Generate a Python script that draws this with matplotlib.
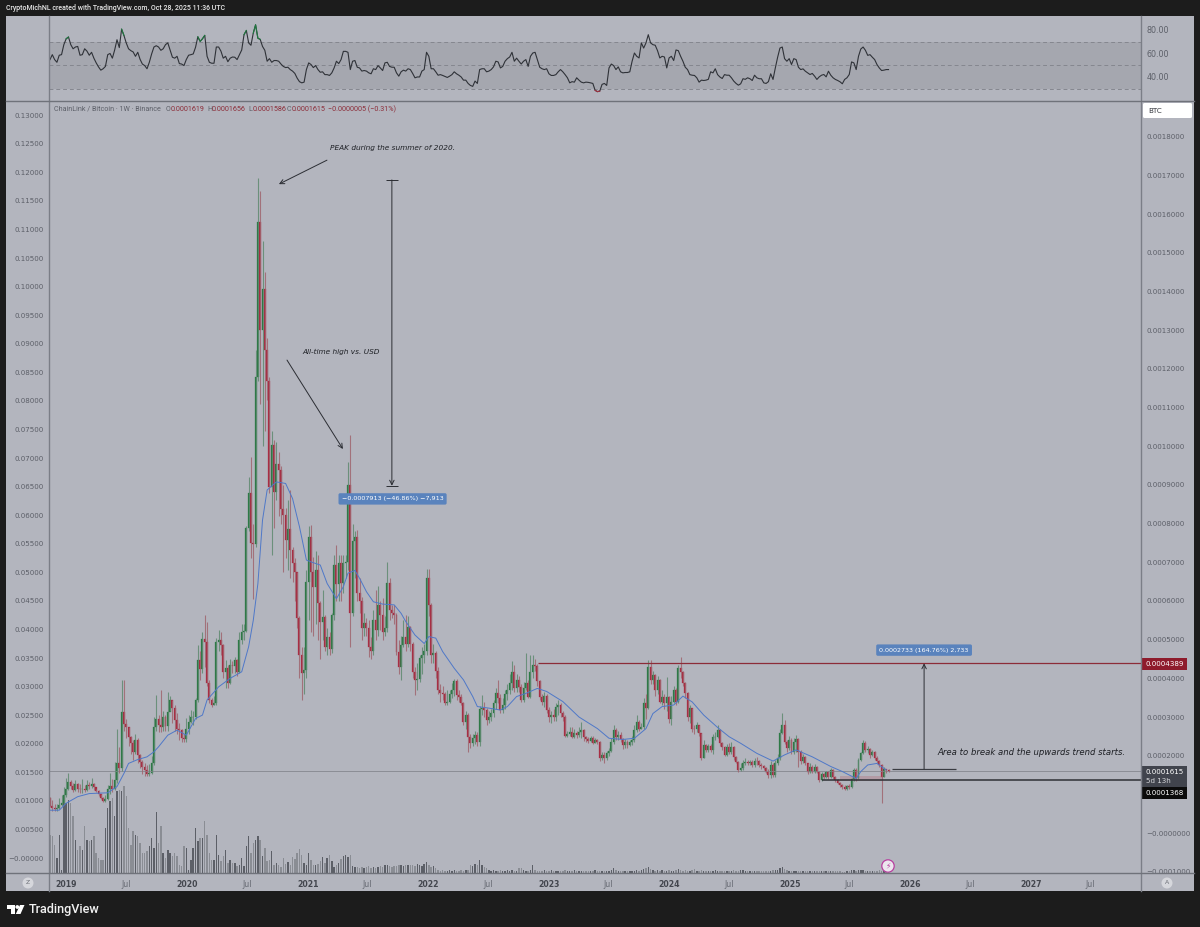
import numpy as np
import pandas as pd
import matplotlib
matplotlib.use("Agg")
import matplotlib.pyplot as plt
from matplotlib.patches import Rectangle, Circle, Polygon, FancyBboxPatch
from matplotlib.ticker import FuncFormatter

W, H = 1200, 927
DARK = "#1c1c1c"
PANEL = "#b3b5be"
BAND = "#a5a7af"
AXIS_LINE = "#7b7e87"
TEXT = "#5c5f68"
UP = "#1d7338"
DOWN = "#a81c34"
BLUE_BOX = "#5a83bd"

START = pd.Timestamp("2018-11-12")
UNIT = 1e-5  # prices below are in 1e-5 BTC

first_open = 9.0
close = [
    7.0,6.5,6.2,6.4,7.2,7.7,9.8,11.5,13.2,12.2,
    11.1,12.7,11.5,11.4,11.5,11.1,12.4,12.2,12.8,12.0,
    10.9,10.1,9.0,8.3,8.7,11.5,12.2,11.5,13.7,18.2,
    16.7,31.4,28.3,27.3,24.9,23.2,21.0,24.0,20.2,18.4,
    17.1,16.3,15.2,15.6,18.0,27.5,29.6,27.9,27.5,29.9,
    27.7,31.4,34.4,32.2,29.2,27.0,26.6,24.5,24.2,27.0,
    28.8,30.0,30.0,34.4,44.7,42.5,50.3,49.5,38.7,34.4,
    33.1,33.5,49.4,50.0,48.6,41.7,42.8,38.8,43.4,43.2,
    44.7,41.7,49.9,52.0,52.3,79.0,87.8,74.9,74.7,118.0,
    158.0,130.0,140.8,124.9,117.0,89.5,100.3,88.2,95.5,94.0,
    83.9,82.2,75.7,78.7,73.2,69.7,67.5,55.5,46.0,41.3,
    42.2,65.0,76.6,67.5,63.7,68.0,59.4,54.6,55.9,48.2,
    50.7,47.5,56.3,69.3,64.5,69.7,64.6,69.7,70.0,90.0,
    56.8,75.4,76.6,62.0,60.0,53.0,54.3,53.0,48.2,47.0,
    55,52.5,59,56.4,52,53,64.6,57.7,57,56.5,
    46.9,43,48.6,50.8,49,53.4,49,41.7,39.6,39.8,
    45.2,46,47,65.9,59,46,46.5,42,37,36.2,
    36,33.5,34,36,37,39.2,35.7,35.3,33.5,28.8,
    30.5,24.9,23.2,24.5,25.3,23.5,32,32.2,31.9,29.2,
    30,31,33.5,36.1,35,31.8,33,36,37,38.7,
    41.7,37.5,39.5,37.8,34.5,37.6,38.7,35.3,41.7,43.4,
    43.2,39.2,35.3,34,35.5,31.8,30,30.5,30,32.5,
    33,31,30,25,25.5,26,24.9,25.8,25.3,26.2,
    26.6,24.9,24.2,23.8,24.5,23.3,24,23.6,19.3,20.2,
    19.3,20.6,21.3,23.6,26.6,24.9,25.3,24.2,22.7,23.6,
    22.7,23.6,24,26.6,28.8,27,27.5,33.5,32.2,43,
    39.6,40.8,37,39.6,33.9,35.2,33.5,35.2,29.6,33.9,
    37,33.9,42.6,41.7,38.7,36.1,30,32.2,27,26.8,
    27.9,25.8,19.3,22.7,21.5,22.5,21.5,24.9,24.9,26.6,
    23.2,22.3,20.2,22.3,21,22.3,19.7,18.4,16.3,16.7,
    18,18.4,18,18.4,17.6,18.7,18.5,17.6,17.3,16.7,
    15.9,15,17.6,15,18,19.3,25.8,27.9,23.6,21.9,
    24,21,23.6,24.2,21,18.5,19.6,18,15.9,17.2,
    15.9,17,15.9,13.7,15.3,14.4,15.7,14.6,16.3,14.4,
    13.7,13,12.4,12,11.3,12.2,11.8,13.9,16.3,14.1,
    18.9,20.8,23.2,21.5,21.6,20.2,21,19.3,18.5,17.6,
    14.6,16.5,16.19,16.15,
]
high = [
    9.4,8.5,7.4,7.6,9,9.8,12,14.1,15.4,13.8,
    13,13.7,13,12.8,14,12.5,13.6,13.3,14.1,13,
    11.5,11,10.1,9.4,9.8,12.5,15.4,14,18.4,26.8,
    22.3,39.6,39.6,29.5,27.5,25,24,25.5,24.5,20.5,
    19,18,17.5,17.8,20,30,35.8,30.5,36.9,31.5,
    30.5,36.4,35.5,34.5,33,31,28.5,27,25.5,29.8,
    30.5,31.8,31.5,35,48.6,47,52,56.3,54.6,39.5,
    35,35.5,50.5,52.5,52,49,44.8,43.5,45,44.5,
    45.5,45,52,54,54,79.5,92,97.3,80,125,
    169.5,166,153,145,128,118,104,101.6,101,98.5,
    95,90,84,86,88.6,74,71,67.5,56,48,
    48,68,79.4,79.6,71.4,73,72,60,62.8,56.4,
    53,52,57,72,74.5,72,72,72,72,96,
    102.9,80,78,78.4,66,61,57,55.5,55,50.8,
    57.7,62.8,64,60,60.7,56,70.2,66,59,59,
    57,50,51,55,56.4,56.2,53.6,49.5,43,44,
    46,48,49,68.2,68.2,59.5,49,47,43,38.5,
    38,36.5,37,37,38.8,39.8,39.8,37,36,33.8,
    31.5,31,25.5,25.5,26.5,26,32.8,35.7,34,32.3,
    31.5,32,34.5,37.5,39.6,36,35,37,38.5,41,
    44.5,43.5,41,40.5,38.5,39,46.6,39.5,46,46,
    45,43.8,39.5,36,36.5,36,32.5,31.5,32,33.5,
    34.5,33.5,31.5,30.5,26.5,27.5,27.5,27,26.5,27.5,
    28.8,27,25.2,24.8,25,25,24.6,24.2,23.8,21,
    21,21.2,22,24.5,27.9,27.2,26.5,26,24.5,24.4,
    24,24,25,28,30.5,29.2,28.5,35,36,44.7,
    44.7,42,41,40.5,39.8,37,36,40.4,35.5,35.5,
    38,37.5,43.5,45.6,42,39,36.5,33,32.4,28,
    28.8,28,25.9,24,23,23,23,25.5,26,28,
    26.8,23.6,22.5,23,23.2,23.5,22.4,20,18.5,18,
    19,19.5,19,19,18.8,19.5,19.7,18.8,18,17.6,
    17,16.5,18.5,18,19,20.5,27,31,29.2,24,
    25,24.5,24.5,25.3,24.5,21.5,20.5,20,18.2,18,
    17.5,17.8,17.4,16,15.7,15.5,16,16,16.8,16.5,
    14.8,14,13.2,12.8,12.3,12.5,12.6,14.2,16.8,16.8,
    19.3,21,24,23.8,22.5,22,21.5,21.2,19.8,18.8,
    17.8,17,16.6,16.56,
]
low = [
    6.6,5.8,5.7,5.8,6.2,6.9,7.5,9.2,11,11.5,
    10.5,10.8,10.6,10.3,10.4,10.7,10.8,11.4,11.6,11,
    10.5,9.6,8.7,8,7.9,8.6,10,10.5,11,13,
    15.5,16,26.5,24.5,22.5,20.5,19,20.5,18,16.8,
    15.2,14.8,14.7,14.8,15.2,17.5,26.5,26,26,26.5,
    26.3,26.5,31.5,28.5,26.5,25.5,24,23.5,23.5,23.5,
    25.5,28.5,28,29.5,34,39.5,41.5,43,38,33.5,
    32.5,33,33,47,46,40,37.5,37.5,38.5,41.5,
    41.5,40.5,41.5,49,50,52,78,71,60.6,74,
    117,111,100,104,112,88,72,79,86,82,
    80,67.5,71,68,66,65,60,53,40,34.4,
    36,40,55,52,51,54,50,45,50,47,
    46,46,46.5,55,60,60,60,62,66,68,
    48.2,56,66,60,56.8,50,51,51,45.6,45,
    46,50,51,52.5,50,51,52,55,55.5,54,
    46,41,39.6,48,47,48,47,40,35.7,37,
    39,41,44,46,56,44,44,40,36,34,
    34.5,33,33,33.5,35,35.5,34.5,34,33,28,
    27,21,22,22.5,23,22.5,22.5,30.5,30,28,
    28.5,29,30,32,33.5,31,31,32,34.5,36,
    37,36.5,36.5,36.5,34,34,37,35,35,40,
    42,38,34.5,33,32.5,31,28.8,28.5,29,29,
    30.5,30,29,24.8,24.8,25,24.5,24.5,24.6,24.8,
    24.5,23.9,23.6,23.2,23.5,23,23.2,23,18.6,19,
    18,19,20,21,23,24,24,23.6,21.6,22,
    22,22.4,22.8,23.5,26,26.4,26.8,27,29.5,32,
    38.5,38.5,35.5,36,33.5,33,32,31.5,28.5,28,
    33.5,33,33.5,40,38,35,29,28.5,26,25.5,
    26,25,19,19.5,21,21,21,20.5,24,24.5,
    22.5,21.5,20,20,20.5,20.5,19,18,15.9,16,
    16.2,17.5,17.5,17.5,17,17,17.5,17,16.5,16.2,
    15.5,14.2,14.2,14.5,14.4,17.5,19,25.5,23,21,
    21.5,20.5,20.5,21,17,17.8,18,17.6,15.2,15.5,
    15.5,15.6,15.5,13.2,13.5,14,14.2,14,14.2,14,
    13.3,12.6,12,11.5,11,11,11.4,11.6,13.5,13.5,
    13.9,18.5,20.5,21,20.7,19.5,19.8,18.8,18,17,
    7.7,14.4,15.6,15.86,
]
volume = [
    38,37,28,15,38,3,70,70,73,70,
    57,33,23,27,23,47,33,32,33,37,
    20,15,13,13,45,65,72,75,57,82,
    83,82,87,77,45,28,42,38,37,30,
    20,20,22,27,35,25,61,30,47,20,
    15,23,20,17,20,17,8,7,27,25,
    3,13,25,45,32,35,35,52,38,20,
    13,13,38,18,12,17,23,10,13,10,
    10,7,8,15,7,27,37,20,30,33,
    37,33,17,25,12,13,22,8,10,8,
    6,15,9,11,8,16,14,20,24,18,
    10,8,20,13,8,8,9,12,16,10,
    15,18,12,6,8,10,14,17,18,16,
    18,7,6,6,5,6,5,6,7,5,
    6,5,6,7,6,8,8,7,6,7,
    7,8,8,7,8,8,8,8,7,9,
    8,7,9,11,8,6,7,5,3,2,
    3,2,2,3,2,3,2,2,3,2,
    3,3,8,7,9,8,13,8,6,5,
    3,2,3,2,2,3,2,2,3,2,
    3,2,2,5,5,3,2,2,3,8,
    3,2,2,2,3,2,2,3,2,2,
    2,2,2,3,2,2,2,3,2,2,
    2,2,2,2,2,2,3,2,2,2,
    2,2,2,3,5,3,2,2,2,2,
    2,2,2,2,3,2,3,4,5,6,
    4,3,2,3,2,3,2,2,3,2,
    2,3,4,3,2,3,2,2,3,4,
    2,2,3,2,2,2,2,2,3,2,
    2,2,2,2,2,2,3,2,2,3,
    3,2,2,2,2,2,2,2,2,2,
    2,2,2,3,3,3,5,6,4,3,
    2,2,2,2,2,2,2,2,2,2,
    2,2,2,2,2,2,2,2,2,2,
    2,2,2,1,1,2,2,3,3,2,
    3,3,3,2,2,2,2,2,2,3,
    2,2,1,1,
]
rsi = [
    54.8,59,54.8,52.5,58.5,59,67.5,72.5,74,67.5,
    64,65.5,66,58.5,59,64,62,58.5,61,56,
    52,48.6,45.8,47,49,59,60,56,63,71.7,
    65,80.7,75.4,69,64,62.4,61.3,57.6,61,55,
    51,49.7,47,52.5,59.6,65.5,66.6,65.5,62.7,64,
    67.5,69,63,56.8,56,57.6,51.4,51,49.7,54.8,
    58.5,59,59.6,65.2,74.2,70.3,72.5,75.4,57.6,52.5,
    51.7,51.7,65.5,65.5,62,56,57.6,53,56,57,
    56.8,54.8,59,63,76,79.6,69,67,77.3,84.4,
    73,72,66,62.7,53.4,55.6,52.5,54,54,53.4,
    51,49,48,48.3,46.3,45,43,39,36,35,
    35.6,46.3,52,50.6,48,49.7,46.3,44,44.4,42,
    42,41.3,43.5,47.7,53.4,51.4,54.8,61.8,61.8,61,
    46.3,53.4,54,48.3,47.7,45,45.5,45,43.5,42.7,
    47,46.3,49.7,47.7,45.5,52,52.5,49,48.3,48.3,
    43.5,40.7,44.4,45.8,45,47,46.3,43,39.3,40,
    40,45,46.3,61,57.6,47,47,44.4,41.5,42,
    41.3,40.4,39.6,40.7,42,44.4,42.7,41.5,40,37.3,
    37.3,34.5,32.8,32,36.5,34.5,46.3,47,47,44.4,
    45,46.3,48.6,53.4,52.8,47.7,49,53.4,55.6,57,
    61,53.4,56,53.4,51,53.4,54.8,49,57.6,60.4,
    61,54.8,48.3,47,46.3,47,42.7,41.3,41.3,42,
    44.4,46.3,44.4,42,39.3,35,36,35.6,39.3,37.3,
    35.6,35,35.6,35.4,35,34.5,28.6,27.5,28,33.7,
    34.5,32.8,47.7,51,49.7,46.3,48.6,44.4,43.5,43.8,
    43.8,44.4,53.4,60.4,57.6,56.2,69,64.6,69,76,
    69,67.5,67,62.4,56.2,57.6,57,47.7,56.2,57.6,
    54,63,62.4,57.6,53.4,48.3,46.3,42,41.5,41.3,
    39.3,35.6,37.3,37,37.3,38,44.4,43.5,47,42,
    40,38.7,42,41.5,41.5,39.3,36.5,34.5,33,34.2,
    38.5,38,39.3,38.5,37,41.5,39.3,38.5,38.5,35,
    34.5,36,42.7,37.9,47.7,56.8,64.6,65.5,55.6,53.4,
    55.6,50.6,55.6,54.8,48.3,46.3,46.9,44.9,43.5,42.1,
    43,40.7,37.9,40.1,41.5,42.1,40.1,44.9,41.5,39.3,
    37.9,37,35.9,34.2,37.9,39.3,42.1,52.8,52,46.3,
    57.6,63.8,65.5,62.7,58.4,59,56.8,54.8,50.6,47.7,
    45.5,45.8,46.3,46.3,
]

# blue moving average, read at a sparser set of weeks
ma_week = [0,4,7,12,17,25,29,32,34,38,42,45,47,51,55,59,63,66,68,73,78,83,86,88,
           90,92,94,98,102,105,108,111,113,117,120,124,127,129,132,134,137,140,144,
           149,152,154,158,162,164,167,170,175,179,183,185,190,195,198,202,206,211,
           215,222,229,237,242,248,253,258,261,265,270,274,278,283,289,294,299,306,
           313,318,323,330,338,343,349,351,354,358,362]
ma_value = [5.9,5.9,7.7,9.4,10.2,10.4,12,15.4,18,19,19.7,21,22.3,25.3,26.6,25.3,29.6,30.5,
            34.4,37.8,40,41.7,48.2,55,64.5,80.9,88.7,90.8,90.4,86.5,79.2,70.6,70.1,69.3,
            64.5,60.6,63.7,67.2,67.9,65.9,62.4,59.8,59.2,59,56.8,54.7,51.2,49,50.8,50.4,
            46.9,42.6,39.6,35.3,32.7,32.3,31.8,32.7,35.3,36.1,37.4,36.6,34,30,27,24.5,
            24.2,24.5,27,30.9,32.7,33.1,35.4,33.9,30.5,27.3,24.9,23.2,20.6,18.6,20.2,
            21.5,19.7,17.2,15.9,14.1,15.9,17.6,18,16.3]

left_ticks = [0.005 * i for i in range(0, 27)]
# 0.0001 is hidden behind the price boxes in the reference
right_ticks = [1e-4 * i for i in range(-1, 19) if i != 1]
rsi_ticks = [40, 60, 80]
rsi_levels = [30, 50, 70]
date_ticks = ["2019-01-01","2019-07-01","2020-01-01","2020-07-01","2021-01-01","2021-07-01",
              "2022-01-01","2022-07-01","2023-01-01","2023-07-01","2024-01-01","2024-07-01",
              "2025-01-01","2025-07-01","2026-01-01","2026-07-01","2027-01-01","2027-07-01"]
date_labels = ["2019","Jul","2020","Jul","2021","Jul","2022","Jul","2023","Jul","2024","Jul",
               "2025","Jul","2026","Jul","2027","Jul"]

resistance = 0.0004389
support = 0.0001368
last_price = 0.0001615

assert len(close) == len(high) == len(low) == len(volume) == len(rsi) == 364, \
    (len(close), len(high), len(low), len(volume), len(rsi))

weeks = np.arange(len(close))
c = np.array(close) * UNIT
o = np.concatenate(([first_open * UNIT], c[:-1]))
h = np.array(high) * UNIT
l = np.array(low) * UNIT
is_up = c >= o
XLIM = (-0.43, 472.3)


def box(x0, y0, x1, y1):
    return [x0 / W, 1 - y1 / H, (x1 - x0) / W, (y1 - y0) / H]


def price_label(v, _):
    if abs(v) < 5e-6:
        return "\u22120.0000000"
    return f"{v:.7f}".replace("-", "\u2212")


fig = plt.figure(figsize=(W / 100, H / 100), dpi=100, facecolor=DARK)

bg = fig.add_axes([0, 0, 1, 1], zorder=0)
bg.set_xlim(0, W)
bg.set_ylim(H, 0)
bg.axis("off")
bg.add_patch(Rectangle((6, 16), 1188, 875, color=PANEL, lw=0))

# RSI pane
ax_rsi = fig.add_axes(box(49, 16, 1141, 100), zorder=1)
ax_rsi.patch.set_alpha(0)
ax_rsi.set_xlim(XLIM)
ax_rsi.set_ylim(20.4, 91.9)
ax_rsi.axhspan(rsi_levels[0], rsi_levels[2], color=BAND, lw=0)
for lev in rsi_levels:
    ax_rsi.axhline(lev, color="#85878f", lw=0.7, ls=(0, (4, 3)))
ax_rsi.plot(weeks, rsi, color="#2f3238", lw=0.8)
rsi_arr = np.array(rsi)
ax_rsi.plot(weeks, np.ma.masked_less(rsi_arr, 70), color="#1f7a40", lw=0.8)
ax_rsi.plot(weeks, np.ma.masked_greater(rsi_arr, 30), color="#a03040", lw=0.8)
ax_rsi.set_xticks([])
ax_rsi.yaxis.tick_right()
ax_rsi.set_yticks(rsi_ticks)
ax_rsi.set_yticklabels([f"{t:.2f}" for t in rsi_ticks])
ax_rsi.tick_params(axis="y", length=0, pad=4, labelsize=5.8, labelcolor=TEXT)
for s in ax_rsi.spines.values():
    s.set_visible(False)

# volume sits on its own hidden scale under the candles
ax_vol = fig.add_axes(box(49, 101, 1141, 873), zorder=1)
ax_vol.patch.set_alpha(0)
ax_vol.set_xlim(XLIM)
ax_vol.set_ylim(0, 772)
ax_vol.bar(weeks, volume, width=0.62, lw=0,
           color=["#5c5f67" if u else "#8a8d94" for u in is_up])
ax_vol.axis("off")

# main price pane, left scale made first so the right one keeps its ticks
ax = fig.add_axes(box(49, 101, 1141, 873), zorder=2)
ax.patch.set_alpha(0)
ax_left = ax.twinx()
ax_left.set_ylim(-0.002625, 0.13248)
ax_left.yaxis.tick_left()
ax_left.set_yticks(left_ticks)
ax_left.set_yticklabels(
    ["\u22120.00000" if t == 0 else f"{t:.5f}" for t in left_ticks])
ax_left.tick_params(axis="y", length=0, pad=4, labelsize=5.1, labelcolor=TEXT)
for s in ax_left.spines.values():
    s.set_visible(False)
ax_left.set_zorder(1)
ax.set_zorder(2)
ax.set_xlim(XLIM)
ax.set_ylim(-10.34 * UNIT, 189.3 * UNIT)

ax.axhline(last_price, color="#85878f", lw=0.6)
ax.vlines(weeks[is_up], l[is_up], h[is_up], color="#5f8a70", lw=0.8, alpha=0.85)
ax.vlines(weeks[~is_up], l[~is_up], h[~is_up], color="#a0656f", lw=0.8, alpha=0.85)
ax.bar(weeks[is_up], (c - o)[is_up], bottom=o[is_up], width=0.85, color=UP,
       edgecolor=UP, lw=0.2, alpha=0.88)
ax.bar(weeks[~is_up], (c - o)[~is_up], bottom=o[~is_up], width=0.85, color=DOWN,
       edgecolor=DOWN, lw=0.2, alpha=0.88)
ax.plot(ma_week, np.array(ma_value) * UNIT, color="#4f78c8", lw=0.7)

ax.yaxis.set_label_position("right")
ax.yaxis.tick_right()
ax.set_yticks(right_ticks)
ax.yaxis.set_major_formatter(FuncFormatter(price_label))
ax.tick_params(axis="y", length=0, pad=4, labelsize=5.1, labelcolor=TEXT)

tick_weeks = [(pd.Timestamp(d) - START).days / 7 for d in date_ticks]
ax.set_xticks(tick_weeks)
ax.set_xticklabels(date_labels)
ax.tick_params(axis="x", length=0, pad=5, labelsize=5.6)
for lab, txt in zip(ax.get_xticklabels(), date_labels):
    if txt == "Jul":
        lab.set_color("#666972")
    else:
        lab.set_color("#43464e")
        lab.set_fontweight("bold")
for s in ax.spines.values():
    s.set_visible(False)

# drawings on the chart
ax.hlines(resistance, 211.3, XLIM[1], color="#8c2c38", lw=0.9)
ax.hlines(support, 334, XLIM[1], color="#2e3036", lw=1.1)
ax.hlines(0.000165, 364.5, 392.2, color="#3a3c42", lw=0.9)
ax.add_patch(Rectangle((342, 13.4 * UNIT), 18, 1.3 * UNIT, color="#b0606c", alpha=0.3, lw=0))

arrow = dict(arrowstyle="->", color="#2b2d33", lw=0.7, shrinkA=0, shrinkB=0, mutation_scale=8)
ax.annotate("", xy=(99.1, 167.8 * UNIT), xytext=(119.9, 174 * UNIT), arrowprops=arrow)
ax.annotate("", xy=(126.8, 99.3 * UNIT), xytext=(102.6, 122.3 * UNIT), arrowprops=arrow)
ax.annotate("", xy=(148.0, 0.000898), xytext=(148.0, 0.001689), arrowprops=arrow)
ax.annotate("", xy=(378.4, resistance), xytext=(378.4, 0.0001656), arrowprops=arrow)
ax.hlines([0.001689, 0.000898], 145.4, 150.6, color="#2b2d33", lw=0.7)

note = dict(style="italic", color="#1d1f24", ha="center", va="center")
ax.text(148.5, 177.1 * UNIT, "PEAK during the summer of 2020.", size=5.3, **note)
ax.text(126, 124.4 * UNIT, "All-time high vs. USD", size=5.3, **note)
ax.text(424.7, 20.7 * UNIT, "Area to break and the upwards trend starts.", size=6.1, **note)

for wk, val, txt in [(148.3, 86.4 * UNIT, "\u22120.0007913 (\u221246.86%) \u22127,913"),
                     (378.4, 47.3 * UNIT, "0.0002733 (164.76%) 2,733")]:
    ax.text(wk, val, txt, color="white", size=4.6, ha="center", va="center",
            bbox=dict(boxstyle="round,pad=0.5,rounding_size=0.25", fc=BLUE_BOX, ec="none"))

# frame, price labels and header drawn in pixels
top = fig.add_axes([0, 0, 1, 1], zorder=5)
top.patch.set_alpha(0)
top.set_xlim(0, W)
top.set_ylim(H, 0)
top.axis("off")
top.plot([49, 49], [16, 891], color=AXIS_LINE, lw=1)
top.plot([1141, 1141], [16, 891], color=AXIS_LINE, lw=1)
top.plot([6, 1194], [100.5, 100.5], color="#6f727a", lw=1)
top.plot([6, 1194], [873, 873], color="#6f727a", lw=1)

sm = dict(family="Roboto", size=5.1, va="center")
top.text(6, 8, "CryptoMichNL created with TradingView.com, Oct 28, 2025 11:36 UTC",
         color="#e8e8e8", family="Roboto", size=5.0, va="center", fontweight="medium")
top.text(54, 109, "ChainLink / Bitcoin \u00b7 1W \u00b7 Binance", color=TEXT, **sm)
for x, letter, val in [(166, "O", "0.0001619"), (207, "H", "0.0001656"),
                       (248, "L", "0.0001586"), (287, "C", "0.0001615")]:
    top.text(x, 109, letter, color=TEXT, **sm)
    top.text(x + 5, 109, val, color="#8c2c38", **sm)
top.text(328, 109, "\u22120.0000005 (\u22120.31%)", color="#8c2c38", **sm)

top.add_patch(FancyBboxPatch((1143, 103), 49, 15, boxstyle="round,pad=0,rounding_size=1.5",
                             fc="white", ec="none"))
top.text(1148, 110.5, "BTC", color="#30333a", size=5.1, va="center")
top.add_patch(Rectangle((1141, 658), 46, 12, color="#8e1b2c", lw=0))
top.text(1146, 664, "0.0004389", color="white", size=5.1, va="center")
top.add_patch(Rectangle((1141, 766), 46, 21, color="#41444d", lw=0))
top.text(1146, 772, "0.0001615", color="white", size=5.1, va="center")
top.text(1146, 781, "5d 13h", color="#d5d6da", size=5.1, va="center")
top.add_patch(Rectangle((1141, 787), 46, 12, color="#0b0b0b", lw=0))
top.text(1146, 793, "0.0001368", color="white", size=5.1, va="center")

for x, y, letter in [(28, 883, "Z"), (1167, 883, "A")]:
    top.add_patch(Circle((x, y), 5.5, fc="#d6d7dc", ec="none"))
    top.text(x, y, letter, color="#6a6d75", size=4.4, ha="center", va="center")

top.add_patch(Circle((888, 866), 6.2, fc="#ece6ee", ec="#b83fa0", lw=0.9))
top.text(888, 866, "\u26a1", color="#b83fa0", size=5.5, ha="center", va="center")

# TradingView logo
top.add_patch(Polygon([(7, 905), (15, 905), (15, 914), (11, 914), (11, 909), (7, 909)],
                      color="white", lw=0))
top.add_patch(Circle((17.3, 907), 1.9, color="white", lw=0))
top.add_patch(Polygon([(20, 905), (24.5, 905), (20.5, 914), (15.8, 914)], color="white", lw=0))
top.text(29, 909, "TradingView", color="#f2f2f2", family="Roboto", size=9.1,
         fontweight="medium", va="center")

fig.savefig("out.png", dpi=100, facecolor=DARK)
